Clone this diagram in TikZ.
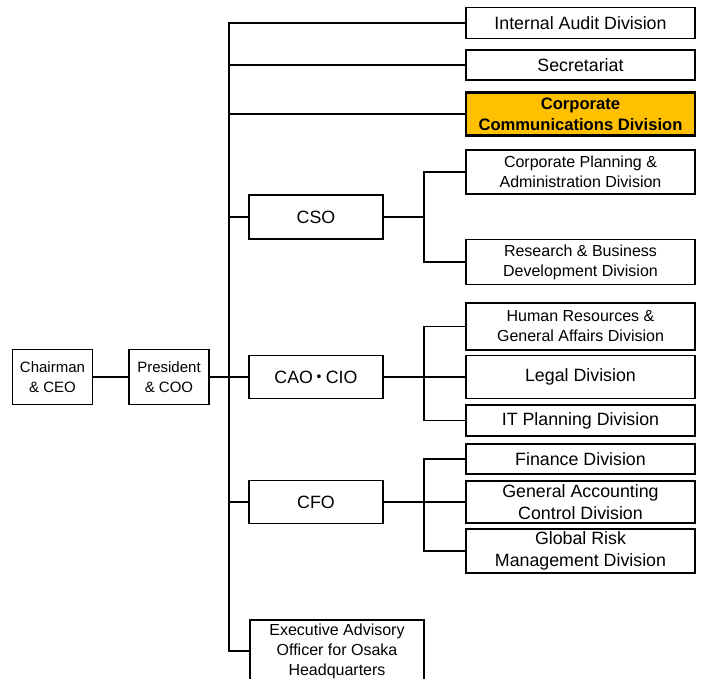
\documentclass[tikz,border=0pt]{standalone}
\usepackage{fontspec}
\setmainfont{Liberation Sans}
\newfontfamily\cjk{Noto Sans CJK JP}
\definecolor{commsorange}{HTML}{FFC000}
\tikzset{
  unit/.style={draw,line width=1.8pt,inner sep=0pt,align=center,minimum width=229pt,font=\fontsize{17.8}{22}\selectfont},
  small/.style={font=\fontsize{16}{20}\selectfont},
  officer/.style={unit,minimum width=134pt,minimum height=44pt},
  top/.style={unit,font=\fontsize{15}{20}\selectfont,minimum width=80pt,minimum height=55pt},
  link/.style={line width=1.8pt}
}
\begin{document}
\begin{tikzpicture}[x=1pt,y=-1pt]
  \useasboundingbox (0,0) rectangle (704,678);

  \node[top] (chair) at (52.5,377) {Chairman\\\& CEO};
  \node[top] (pres) at (169,377) {President\\\& COO};

  \node[officer] (cso) at (316,217) {CSO};
  \node[officer,minimum height=43pt] (cao) at (316,377) {CAO\kern-2.5pt{\cjk ・}\kern-2.5pt CIO};
  \node[officer,minimum height=43pt] (cfo) at (316,502) {CFO};
  \node[unit,small,minimum width=174pt,minimum height=62pt,anchor=north] (exec) at (337,619) {Executive Advisory\\Officer for Osaka\\Headquarters};

  \node[unit,minimum height=31pt] (audit) at (580.5,23) {Internal Audit Division};
  \node[unit,minimum height=30pt] (secr) at (580.5,65) {Secretariat};
  \node[unit,fill=commsorange,line width=2.6pt,minimum height=43pt,font=\fontsize{16.6}{21}\selectfont\bfseries] (comms) at (580.5,114) {Corporate\\Communications Division};

  \node[unit,small,minimum height=44pt] (plan) at (580.5,172) {Corporate Planning \&\\Administration Division};
  \node[unit,small,minimum height=45pt] (rnd) at (580.5,262) {Research \& Business\\Development Division};

  \node[unit,small,minimum height=47pt] (hr) at (580.5,326.5) {Human Resources \&\\General Affairs Division};
  \node[unit,minimum height=43pt] (legal) at (580.5,377) {Legal Division};
  \node[unit,minimum height=31pt] (itp) at (580.5,420.5) {IT Planning Division};

  \node[unit,minimum height=30pt] (fin) at (580.5,459) {Finance Division};
  \node[unit,minimum height=42pt] (gac) at (580.5,502) {General Accounting\\Control Division};
  \node[unit,minimum height=44pt] (grm) at (580.5,551) {Global Risk\\Management Division};

  \coordinate (spine) at (229,0);
  \coordinate (fork) at (424,0);

  \draw[link] (chair) -- (pres);
  \draw[link] (pres) -- (cao);
  \draw[link] (audit.west) -| (spine |- exec.west) -- (exec.west);
  \foreach \n in {secr,comms,cso,cfo}
    \draw[link] (spine |- \n.west) -- (\n.west);

  \draw[link] (cso.east) -- (fork |- cso.east);
  \draw[link] (plan.west) -| (fork |- rnd.west) -- (rnd.west);
  \draw[link] (cao.east) -- (legal.west);
  \draw[link] (hr.west) -| (fork |- itp.west) -- (itp.west);
  \draw[link] (cfo.east) -- (gac.west);
  \draw[link] (fin.west) -| (fork |- grm.west) -- (grm.west);
\end{tikzpicture}
\end{document}
